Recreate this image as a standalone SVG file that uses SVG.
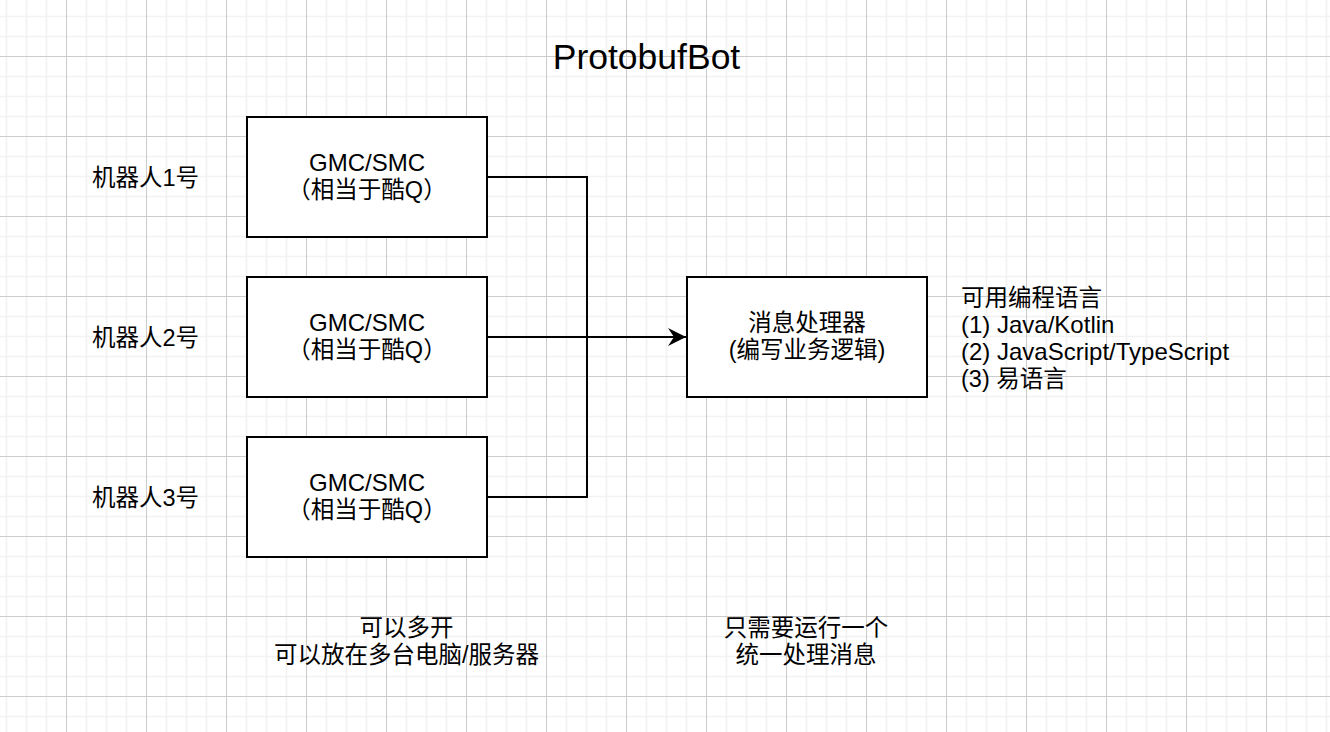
<svg xmlns="http://www.w3.org/2000/svg" width="1330" height="732" viewBox="0 0 1330 732">
  <defs>
    <pattern id="grid" x="66" y="56" width="80" height="80" patternUnits="userSpaceOnUse">
      <path d="M20.5 0V80M40.5 0V80M60.5 0V80M0 20.5H80M0 40.5H80M0 60.5H80" stroke="#f2f2f2" stroke-width="1.6" fill="none"/>
      <path d="M0.5 0V80M0 0.5H80" stroke="#cccccc" stroke-width="1" fill="none"/>
    </pattern>
    <marker id="arrow" markerUnits="userSpaceOnUse" markerWidth="20" markerHeight="20" refX="18" refY="9" orient="auto">
      <path d="M0 0L18 9L0 18L6 9Z" fill="#000"/>
    </marker>
  </defs>
  <style>
    text { font-family: "Liberation Sans", "Noto Sans CJK SC", sans-serif; font-size: 23.5px; fill: #000; }
    .mid { text-anchor: middle; }
    .lat { font-size: 24px; }
    .title { font-size: 35.5px; }
    .box { fill: #fff; stroke: #000; stroke-width: 2; }
    .conn { fill: none; stroke: #000; stroke-width: 2; }
  </style>
  <rect width="1330" height="732" fill="#fff"/>
  <rect width="1330" height="732" fill="url(#grid)"/>

  <g id="title">
    <text class="mid title" x="646.5" y="69">ProtobufBot</text>
  </g>

  <g id="connectors">
    <path class="conn" d="M487 177H587V337"/>
    <path class="conn" d="M487 497H587V337"/>
    <path class="conn" d="M487 337H686" marker-end="url(#arrow)"/>
  </g>

  <g id="label-bot1"><text class="mid" x="145.5" y="186">机器人1号</text></g>
  <g id="label-bot2"><text class="mid" x="145.5" y="346">机器人2号</text></g>
  <g id="label-bot3"><text class="mid" x="145.5" y="506">机器人3号</text></g>

  <g id="gmc1">
    <rect class="box" x="247" y="117" width="240" height="120"/>
    <text class="mid lat" x="367" y="171">GMC/SMC</text>
    <text class="mid" x="367" y="198">（相当于酷Q）</text>
  </g>
  <g id="gmc2">
    <rect class="box" x="247" y="277" width="240" height="120"/>
    <text class="mid lat" x="367" y="331">GMC/SMC</text>
    <text class="mid" x="367" y="358">（相当于酷Q）</text>
  </g>
  <g id="gmc3">
    <rect class="box" x="247" y="437" width="240" height="120"/>
    <text class="mid lat" x="367" y="491">GMC/SMC</text>
    <text class="mid" x="367" y="518">（相当于酷Q）</text>
  </g>

  <g id="processor">
    <rect class="box" x="687" y="277" width="240" height="120"/>
    <text class="mid" x="807" y="331">消息处理器</text>
    <text class="mid" x="807" y="358">(编写业务逻辑)</text>
  </g>

  <g id="languages">
    <text x="961" y="306">可用编程语言</text>
    <text class="lat" x="961" y="333">(1) Java/Kotlin</text>
    <text class="lat" x="961" y="360">(2) JavaScript/TypeScript</text>
    <text x="961" y="387">(3) 易语言</text>
  </g>

  <g id="note-left">
    <text class="mid" x="406.5" y="636">可以多开</text>
    <text class="mid" x="406.5" y="663">可以放在多台电脑/服务器</text>
  </g>

  <g id="note-right">
    <text class="mid" x="806" y="636">只需要运行一个</text>
    <text class="mid" x="806" y="663">统一处理消息</text>
  </g>
</svg>
